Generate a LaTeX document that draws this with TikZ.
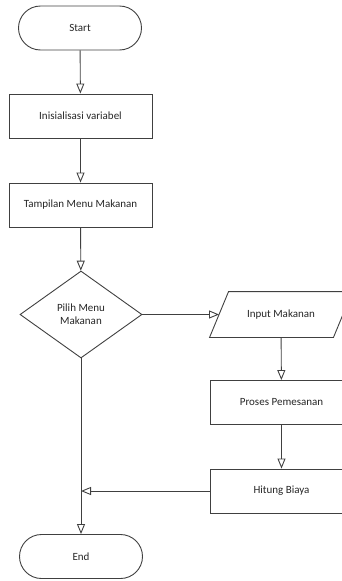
\documentclass[tikz,border=0pt]{standalone}
\usepackage{fontspec}
\setmainfont{Carlito}
\usetikzlibrary{arrows.meta,shapes.geometric,calc}
\begin{document}
\begin{tikzpicture}[x=1pt,y=-1pt,
  line width=0.9pt,
  every node/.style={font=\fontsize{11}{13}\selectfont, text=black!85},
  terminal/.style={draw=black!75, rounded corners=22pt, minimum width=123pt, minimum height=44pt, inner sep=0pt},
  process/.style={draw=black!75, minimum width=143pt, minimum height=44pt, inner sep=0pt},
  decision/.style={draw=black!75, diamond, aspect=1.4, minimum width=122pt, minimum height=87pt, inner sep=0pt, align=center},
  iobox/.style={minimum width=123pt, minimum height=45pt, inner sep=0pt},
  flow/.style={draw=black!75, -{Triangle[open, length=10pt, width=8pt]}}
]
\useasboundingbox (0,0) rectangle (342,581);

\node[terminal] (start) at (80,28) {Start};
\node[process] (init) at (80.5,116) {Inisialisasi variabel};
\node[process] (menu) at (80.5,205) {Tampilan Menu Makanan};
\node[decision] (pilih) at (81,314.5) {Pilih Menu\\Makanan};
% input/output parallelogram, leaning right
\node[iobox] (input) at (281,314.5) {Input Makanan};
\draw[draw=black!75]
  ($(input.south west)+(-9.5,0)$) -- ($(input.north west)+(9.5,0)$) --
  ($(input.north east)+(9.5,0)$) -- ($(input.south east)+(-9.5,0)$) -- cycle;
\node[process] (proses) at (281.5,402.5) {Proses Pemesanan};
\node[process] (hitung) at (281.5,491) {Hitung Biaya};
\node[terminal] (end) at (81,556.5) {End};

\coordinate (join) at (pilih.south |- hitung.west);

\draw[flow] (start) -- (init);
\draw[flow] (init) -- (menu);
\draw[flow] (menu) -- (pilih);
\draw[flow] (pilih.east) -- (input.west);
\draw[flow] (input) -- (proses);
\draw[flow] (proses) -- (hitung);
\draw[flow] (hitung.west) -- (join);
\draw[flow] (pilih.south) -- (end.north);
\end{tikzpicture}
\end{document}
